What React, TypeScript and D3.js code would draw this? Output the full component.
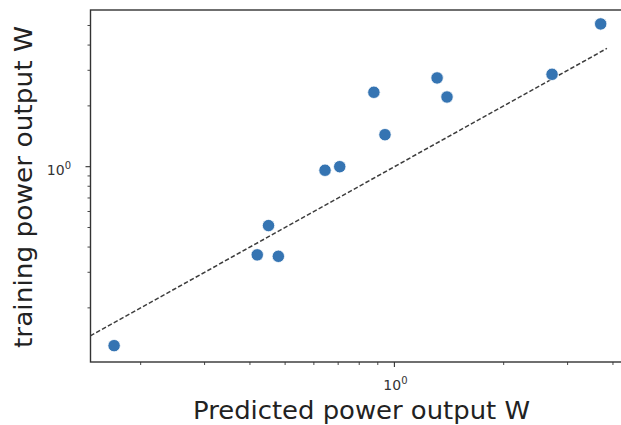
import React from "react";
import * as d3 from "d3";

// Predicted vs. measured power output (W), log–log
const predicted = [0.169, 0.419, 0.450, 0.479, 0.644, 0.707, 0.878, 0.942, 1.311, 1.396, 2.718, 3.70];
const training = [0.130, 0.366, 0.511, 0.360, 0.960, 1.0, 2.335, 1.44, 2.75, 2.213, 2.866, 5.09];

// parity (y = x) reference line extent
const parityRange = [0.13, 3.85];

const xDomain = [0.1455, 4.236];
const yDomain = [0.1079, 5.966];

const xMinorTicks = [0.2, 0.3, 0.4, 0.5, 0.6, 0.7, 0.8, 0.9, 2, 3, 4];
const yMinorTicks = [0.2, 0.3, 0.4, 0.5, 0.6, 0.7, 0.8, 0.9, 2, 3, 4, 5];
const majorTicks = [1];

const W = 621;
const H = 425;
const plot = { left: 90.5, right: 622, top: 10, bottom: 362 };

export default function App() {
  const x = d3.scaleLog().domain(xDomain).range([plot.left, plot.right]);
  const y = d3.scaleLog().domain(yDomain).range([plot.bottom, plot.top]);

  const line = d3
    .line<number>()
    .x((v) => x(v))
    .y((v) => y(v));

  const axisColor = "#333";
  const font = "DejaVu Sans, sans-serif";

  return (
    <svg
      width={W}
      height={H}
      style={{ position: "absolute", left: 0, top: 0, background: "#fff" }}
    >
      <defs>
        <clipPath id="plotClip">
          <rect
            x={plot.left}
            y={plot.top}
            width={plot.right - plot.left}
            height={plot.bottom - plot.top}
          />
        </clipPath>
      </defs>

      {/* parity line */}
      <path
        d={line(parityRange) || ""}
        fill="none"
        stroke="#3d3d3d"
        strokeWidth={1.5}
        strokeDasharray="4.5,2.2"
        clipPath="url(#plotClip)"
      />

      {/* points */}
      <g clipPath="url(#plotClip)">
        {predicted.map((p, i) => (
          <circle
            key={i}
            cx={x(p)}
            cy={y(training[i])}
            r={6.2}
            fill="#3574b2"
            stroke="#fff"
            strokeWidth={0.8}
          />
        ))}
      </g>

      {/* x ticks */}
      {xMinorTicks.map((t) => (
        <line
          key={"xm" + t}
          x1={x(t)}
          x2={x(t)}
          y1={plot.bottom}
          y2={plot.bottom + 3}
          stroke={axisColor}
          strokeWidth={0.9}
        />
      ))}
      {majorTicks.map((t) => (
        <line
          key={"xM" + t}
          x1={x(t)}
          x2={x(t)}
          y1={plot.bottom}
          y2={plot.bottom + 5}
          stroke={axisColor}
          strokeWidth={1.1}
        />
      ))}
      {majorTicks.map((t) => (
        <text
          key={"xl" + t}
          x={x(t) + 1}
          y={389.5}
          textAnchor="middle"
          fontFamily={font}
          fontSize={14}
          fill="#333"
        >
          10
          <tspan dy={-6} fontSize={10}>
            0
          </tspan>
        </text>
      ))}

      {/* y ticks */}
      {yMinorTicks.map((t) => (
        <line
          key={"ym" + t}
          x1={plot.left - 3}
          x2={plot.left}
          y1={y(t)}
          y2={y(t)}
          stroke={axisColor}
          strokeWidth={0.9}
        />
      ))}
      {majorTicks.map((t) => (
        <line
          key={"yM" + t}
          x1={plot.left - 5}
          x2={plot.left}
          y1={y(t)}
          y2={y(t)}
          stroke={axisColor}
          strokeWidth={1.1}
        />
      ))}
      {majorTicks.map((t) => (
        <text
          key={"yl" + t}
          x={71}
          y={y(t) + 8}
          textAnchor="end"
          fontFamily={font}
          fontSize={14}
          fill="#333"
        >
          10
          <tspan dy={-6} fontSize={10}>
            0
          </tspan>
        </text>
      ))}

      {/* frame */}
      <rect
        x={plot.left}
        y={plot.top}
        width={plot.right - plot.left}
        height={plot.bottom - plot.top}
        fill="none"
        stroke={axisColor}
        strokeWidth={1.4}
      />

      {/* axis titles */}
      <text
        x={361.5}
        y={418.5}
        textAnchor="middle"
        fontFamily={font}
        fontSize={24}
        fill="#222"
        textLength={337}
        lengthAdjust="spacingAndGlyphs"
      >
        Predicted power output W
      </text>
      <text
        transform={`translate(32,187) rotate(-90)`}
        textAnchor="middle"
        fontFamily={font}
        fontSize={25}
        fill="#222"
        textLength={322}
        lengthAdjust="spacingAndGlyphs"
      >
        training power output W
      </text>
    </svg>
  );
}
